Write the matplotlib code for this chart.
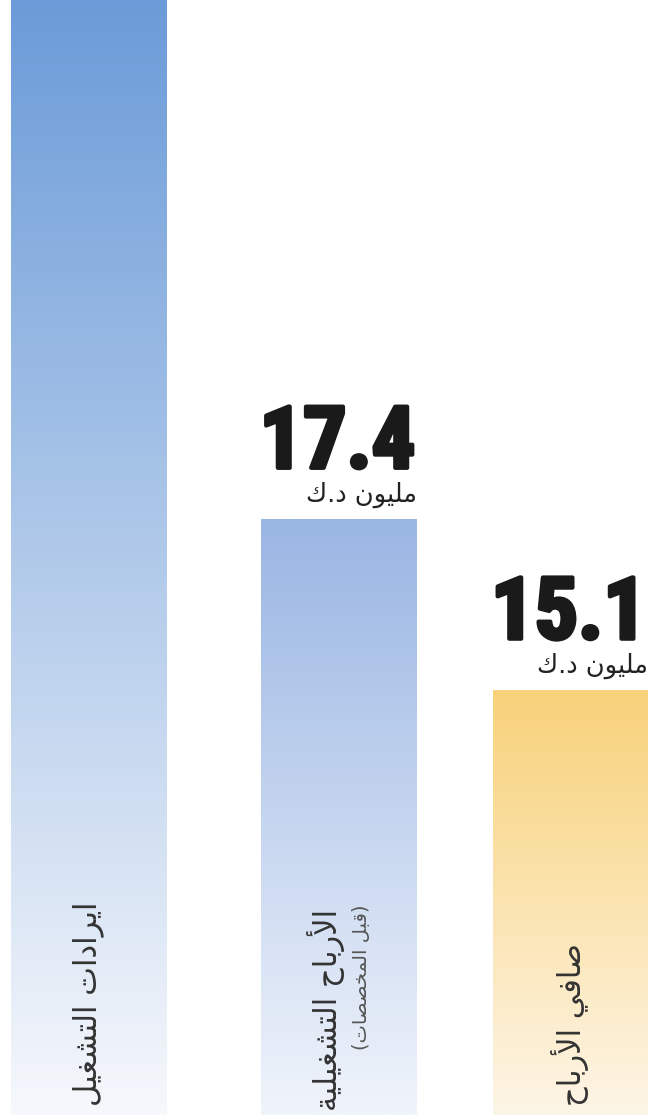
import numpy as np
import matplotlib.pyplot as plt
from matplotlib.colors import LinearSegmentedColormap
import matplotlib.patheffects as pe

# data
labels = ["ايرادات التشغيل", "الأرباح التشغيلية", "صافي الأرباح"]
sub_labels = ["", "(قبل المخصصات)", ""]
values = [24.4, 17.4, 15.1]          # first value not printed, bar runs off the top
value_text = ["", "17.4", "15.1"]
unit = "مليون د.ك"

# layout / style
xpos = [0.0, 1.0, 1.924]
width = 0.619
top_colors = ["#6b9bd8", "#9ab6e3", "#f8d27a"]
bottom_colors = ["#f6f8fc", "#f0f4fb", "#fdf5e6"]
ylo, yhi = 9.38, 24.39

# minimal arabic shaping (matplotlib has no shaping / bidi)
FORMS = {
    'ا': (0xFE8D, False), 'أ': (0xFE83, False), 'ب': (0xFE8F, True), 'ة': (0xFE93, False),
    'ت': (0xFE95, True), 'ح': (0xFEA1, True), 'خ': (0xFEA5, True), 'د': (0xFEA9, False),
    'ر': (0xFEAD, False), 'ش': (0xFEB5, True), 'ص': (0xFEB9, True), 'غ': (0xFECD, True),
    'ف': (0xFED1, True), 'ق': (0xFED5, True), 'ك': (0xFED9, True), 'ل': (0xFEDD, True),
    'م': (0xFEE1, True), 'ن': (0xFEE5, True), 'و': (0xFEED, False), 'ي': (0xFEF1, True),
    'لا': (0xFEFB, False), 'لأ': (0xFEF7, False),
}


def shape(s):
    chars = []
    i = 0
    while i < len(s):
        if s[i] == 'ل' and i + 1 < len(s) and s[i + 1] in 'اأ':
            chars.append(s[i:i + 2])
            i += 2
        else:
            chars.append(s[i])
            i += 1
    out = []
    for j, c in enumerate(chars):
        if c not in FORMS:
            out.append(c)
            continue
        base, dual = FORMS[c]
        prev = chars[j - 1] if j > 0 else None
        nxt = chars[j + 1] if j + 1 < len(chars) else None
        jp = prev in FORMS and FORMS[prev][1]
        jn = dual and nxt in FORMS
        if jp and jn:
            code = base + 3
        elif jp:
            code = base + 1
        elif jn:
            code = base + 2
        else:
            code = base
        out.append(chr(code))
    vis = ''.join(reversed(out))
    return vis.translate(str.maketrans('()', ')('))


plt.rcParams['font.family'] = ['DejaVu Sans']

fig = plt.figure(figsize=(6.48, 11.15), dpi=100)
ax = fig.add_axes([0, 0, 1, 1])
ax.axis('off')

bars = ax.bar(xpos, values, width=width, color='none', edgecolor='none')
for b, v, c0, c1 in zip(bars, values, top_colors, bottom_colors):
    cmap = LinearSegmentedColormap.from_list('g', [c1, c0])
    grad = np.linspace(0, 1, 256).reshape(-1, 1)
    x0 = b.get_x()
    im = ax.imshow(grad, cmap=cmap, aspect='auto', origin='lower',
                   extent=[x0, x0 + width, ylo, min(v, yhi)], zorder=1)
    im.set_clip_path(b)

ax.set_xlim(-0.3533, 2.2335)
ax.set_ylim(ylo, yhi)

# value labels
for x, v, t in zip(xpos, values, value_text):
    if not t:
        continue
    ax.annotate(t, xy=(x + width / 2, v), xytext=(-1, 37), textcoords='offset points',
                ha='right', va='baseline', fontsize=62, fontweight='bold',
                fontstretch='condensed',
                family=['Roboto Condensed', 'Liberation Sans Narrow', 'DejaVu Sans'],
                color='#1a1a1a',
                path_effects=[pe.withStroke(linewidth=3, foreground='#1a1a1a')])
    ax.annotate(shape(unit), xy=(x + width / 2, v), xytext=(0, 8), textcoords='offset points',
                ha='right', va='bottom', fontsize=18.5, color='#222222')

# category labels inside the bars
trans = ax.get_xaxis_transform()
for x, lab, sub in zip(xpos, labels, sub_labels):
    if sub:
        ax.text(x - 0.05, 0.004, shape(lab), transform=trans, rotation=90,
                ha='center', va='bottom', fontsize=22, color='#333333', zorder=3)
        ax.text(x + 0.09, 0.058, shape(sub), transform=trans, rotation=90,
                ha='center', va='bottom', fontsize=14, color='#555555', zorder=3)
    else:
        ax.text(x, 0.008, shape(lab), transform=trans, rotation=90,
                ha='center', va='bottom', fontsize=22, color='#333333', zorder=3)

fig.savefig('out.png', dpi=100)
